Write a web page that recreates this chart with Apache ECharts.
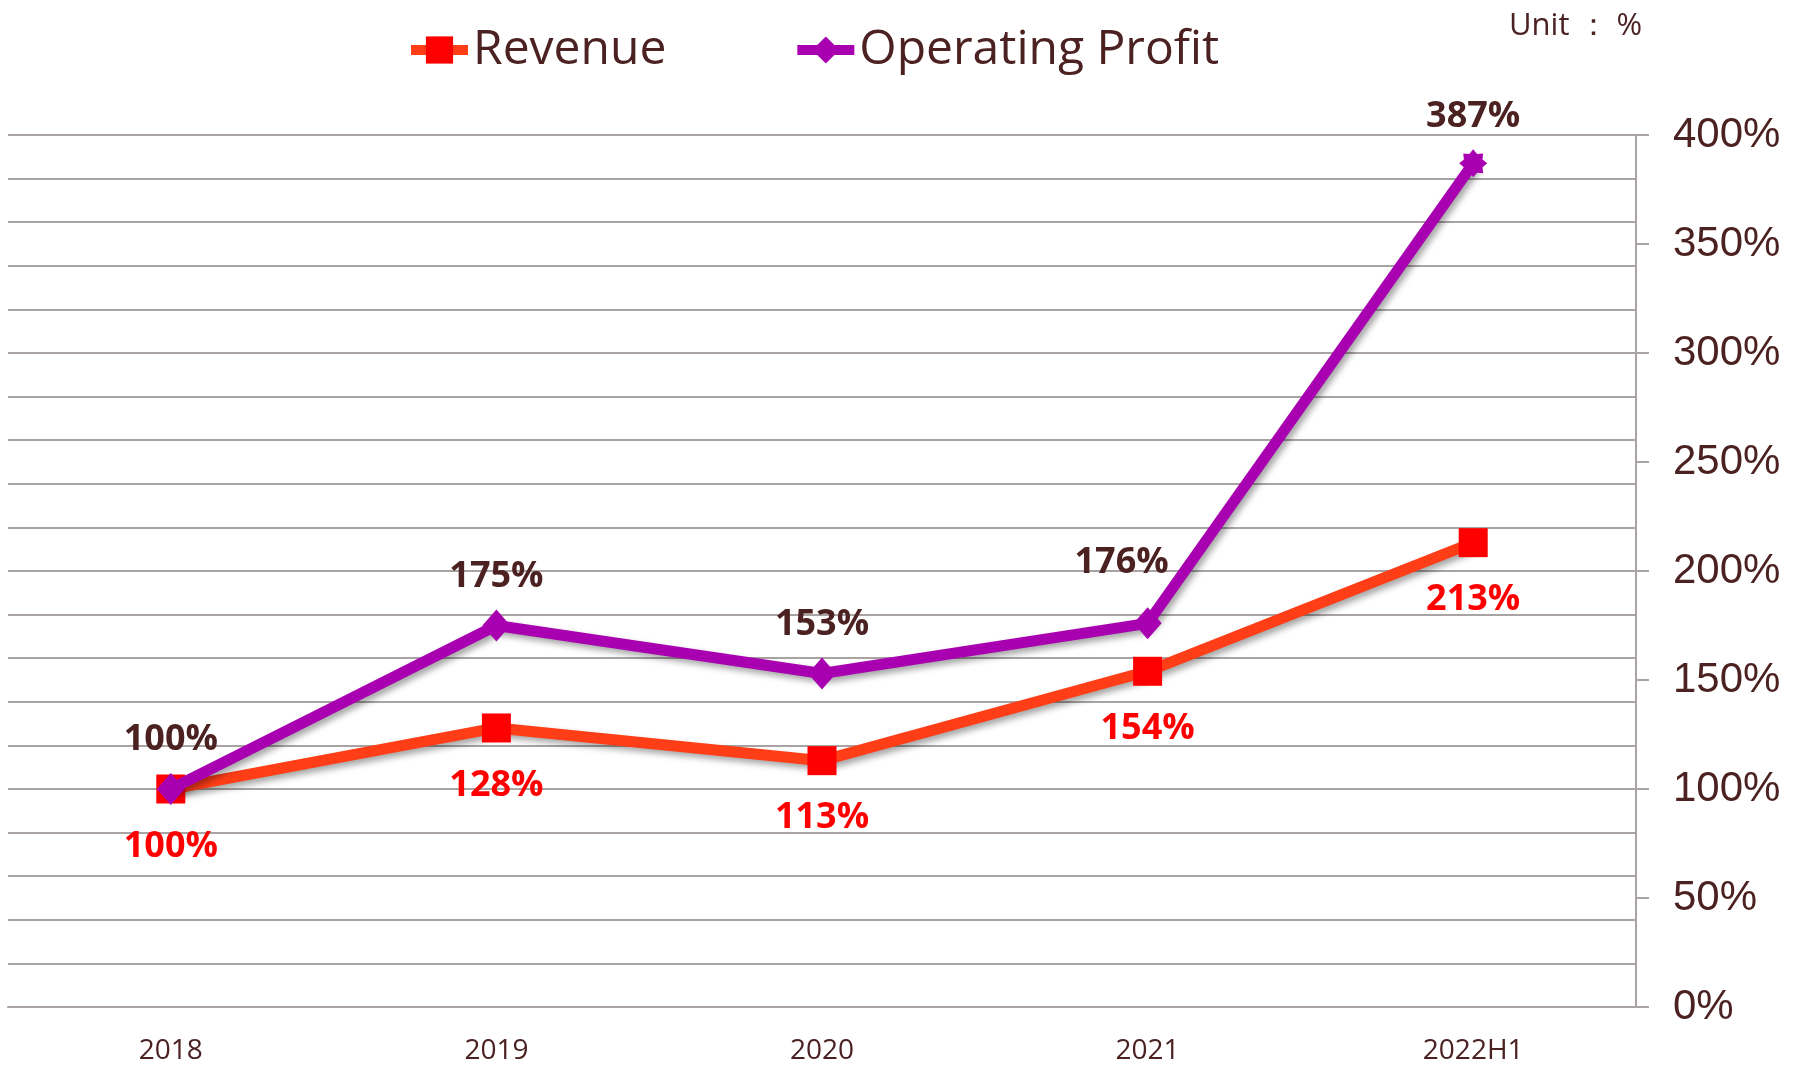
<!DOCTYPE html>
<html>
<head>
<meta charset="utf-8">
<script src="https://cdn.jsdelivr.net/npm/echarts@6/dist/echarts.min.js"></script>
<style>
  html, body { margin: 0; padding: 0; background: #fff; }
  #chart { width: 1805px; height: 1074px; }
</style>
</head>
<body>
<div id="chart"></div>
<script>
// data
const years = ['2018', '2019', '2020', '2021', '2022H1'];
const revenue = [100, 128, 113, 154, 213];
const operatingProfit = [100, 175, 153, 176, 387];
const yTicks = [0, 50, 100, 150, 200, 250, 300, 350, 400];
const gridStep = 20;   // horizontal grid lines are every 20%, labels every 50%

const textColor = '#4b2121';
const gridColor = '#aaa3a3';

// star burst used on the last profit point
const starPath = 'path://M100,50 L83.3,63.8 L85.4,85.4 L63.8,83.3 L50,100 L36.2,83.3 L14.6,85.4 L16.7,63.8 L0,50 L16.7,36.2 L14.6,14.6 L36.2,16.7 L50,0 L63.8,16.7 L85.4,14.6 L83.3,36.2 Z';

const chart = echarts.init(document.getElementById('chart'));

const lineShadow = {
  shadowColor: 'rgba(0,0,0,0.35)',
  shadowBlur: 6,
  shadowOffsetX: 3,
  shadowOffsetY: 4
};

const profitData = operatingProfit.map((v, i) => {
  const item = { value: v };
  if (i === 3) item.label = { offset: [-26, -12] };
  if (i === operatingProfit.length - 1) {
    item.symbol = starPath;
    item.symbolSize = 28;
  }
  return item;
});

const yMin = yTicks[0];
const yMax = yTicks[yTicks.length - 1];

const option = {
  backgroundColor: '#ffffff',
  animation: false,
  legend: {
    left: 401,
    top: 21,
    itemWidth: 57,
    itemHeight: 34,
    itemGap: 126,
    lineStyle: { width: 10 },
    textStyle: { fontFamily: 'Open Sans', fontSize: 48, color: textColor },
    data: ['Revenue', 'Operating Profit']
  },
  graphic: [{
    type: 'text',
    left: 1509,
    top: 11,
    style: { text: 'Unit ： %', fontFamily: 'Open Sans', fontSize: 31, fill: textColor }
  }],
  grid: { left: 8, right: 169, top: 135, bottom: 67, containLabel: false, outerBoundsMode: 'none' },
  xAxis: {
    type: 'category',
    data: years,
    boundaryGap: true,
    axisTick: { show: false },
    axisLine: { lineStyle: { color: gridColor, width: 2 } },
    axisLabel: { margin: 30, fontFamily: 'Open Sans', fontSize: 28, color: textColor }
  },
  yAxis: [
    {
      // grid lines only
      type: 'value',
      position: 'right',
      min: yMin,
      max: yMax,
      interval: gridStep,
      axisLine: { show: false },
      axisTick: { show: false },
      axisLabel: { show: false },
      splitLine: { show: true, lineStyle: { color: gridColor, width: 2 } }
    },
    {
      // labelled axis on the right
      type: 'value',
      position: 'right',
      min: yMin,
      max: yMax,
      interval: 50,
      axisLine: { show: true, lineStyle: { color: gridColor, width: 2 } },
      axisTick: { show: true, length: 13, lineStyle: { color: gridColor, width: 2 } },
      axisLabel: {
        margin: 37,
        fontFamily: 'Liberation Sans',
        fontSize: 42,
        color: textColor,
        formatter: v => v + '%'
      },
      splitLine: { show: false }
    }
  ],
  series: [
    {
      name: 'Revenue',
      type: 'line',
      yAxisIndex: 0,
      data: revenue,
      symbol: 'rect',
      symbolSize: 29,
      itemStyle: { color: '#ff0000' },
      lineStyle: Object.assign({ color: '#ff3d17', width: 11 }, lineShadow),
      label: {
        show: true,
        position: 'bottom',
        distance: 25,
        formatter: p => p.value + '%',
        fontFamily: 'Open Sans',
        fontWeight: 'bold',
        fontSize: 36,
        color: '#ff0000'
      },
      z: 2
    },
    {
      name: 'Operating Profit',
      type: 'line',
      yAxisIndex: 0,
      data: profitData,
      symbol: 'diamond',
      symbolSize: [28, 32],
      itemStyle: { color: '#a800b0' },
      lineStyle: Object.assign({ color: '#a800b0', width: 11 }, lineShadow),
      label: {
        show: true,
        position: 'top',
        distance: 15,
        formatter: p => p.value + '%',
        fontFamily: 'Open Sans',
        fontWeight: 'bold',
        fontSize: 36,
        color: textColor
      },
      z: 3
    }
  ]
};

chart.setOption(option);
</script>
</body>
</html>
